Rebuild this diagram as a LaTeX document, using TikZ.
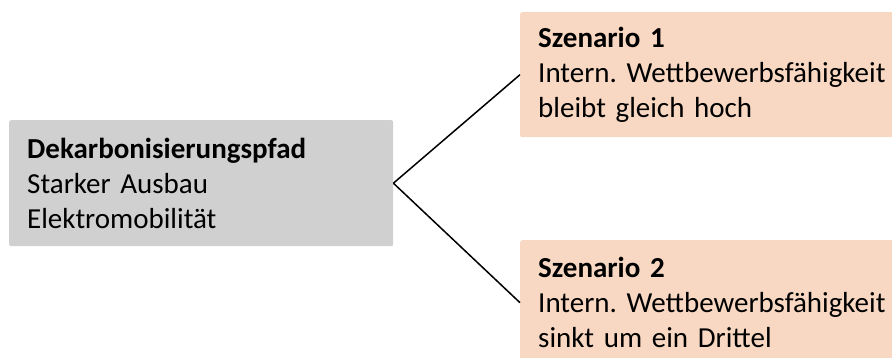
\documentclass[tikz,border=0pt]{standalone}
\usepackage{fontspec}
\setmainfont[WordSpace=0.6]{Carlito}
\frenchspacing
\definecolor{boxgray}{HTML}{D0D0D0}
\definecolor{peach}{HTML}{F8D8C2}
\tikzset{
  box/.style={rectangle, rounded corners=2pt, anchor=north west, align=left,
    inner xsep=18pt, inner ysep=0pt, font=\fontsize{29}{35}\selectfont, text=black},
  link/.style={draw=black, line width=1.5pt}
}
\begin{document}
\begin{tikzpicture}[x=1pt,y=1pt]
\useasboundingbox (0,0) rectangle (892,358);
\clip (0,0) rectangle (892,358);
\node[box, fill=boxgray, text width=348pt, minimum height=126pt] (pfad) at (9,238)
  {\textbf{Dekarbonisierungspfad}\\Starker Ausbau\\Elektromobilität};
\node[box, fill=peach, text width=380pt, minimum height=125pt] (s1) at (520,346)
  {\textbf{Szenario 1}\\Intern. Wettbewerbsfähigkeit\\bleibt gleich hoch};
\node[box, fill=peach, text width=380pt, minimum height=125pt] (s2) at (520,118)
  {\textbf{Szenario 2}\\Intern. Wettbewerbsfähigkeit\\sinkt um ein Drittel};
\draw[link] (pfad.east) -- (s1.west);
\draw[link] (pfad.east) -- (s2.west);
\end{tikzpicture}
\end{document}
